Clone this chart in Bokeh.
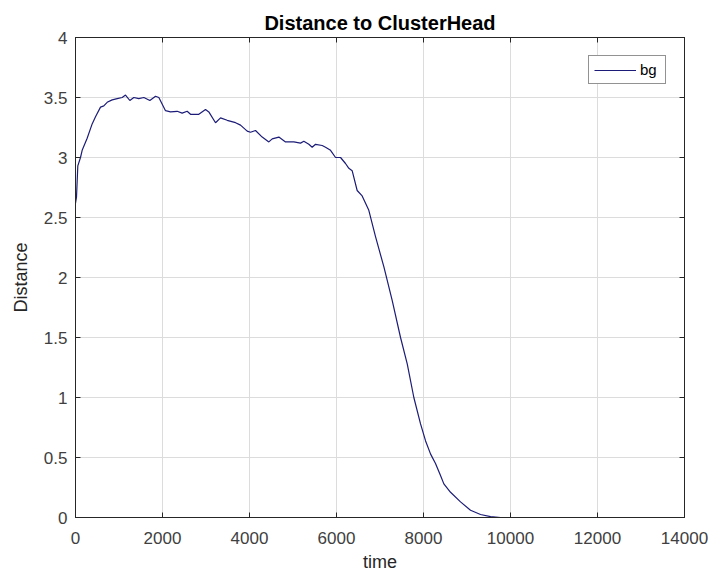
from bokeh.plotting import figure
from bokeh.models import LinearAxis, FixedTicker, Range1d, Legend, LegendItem
from bokeh.embed import file_html
from bokeh.resources import INLINE

# Mean distance of the nodes to their cluster head over simulation time
time = [0, 23, 53, 115, 153, 268, 383, 460, 575, 651, 728, 843, 958, 1073, 1150,
        1249, 1341, 1456, 1571, 1709, 1840, 1916, 2069, 2184, 2337, 2452, 2567,
        2644, 2835, 2989, 3065, 3219, 3334, 3487, 3679, 3794, 3947, 4023, 4138,
        4292, 4445, 4522, 4675, 4828, 5019, 5173, 5249, 5364, 5441, 5518, 5671,
        5748, 5863, 5978, 6093, 6207, 6284, 6360, 6475, 6590, 6743, 6897, 7088,
        7280, 7472, 7626, 7778, 7932, 8046, 8161, 8276, 8391, 8468, 8622, 8851,
        9081, 9311, 9541, 9771, 10000, 11000, 12000, 12500]
distance = [2.62, 2.67, 2.93, 3.00, 3.06, 3.16, 3.28, 3.34, 3.42, 3.43, 3.46, 3.48,
            3.49, 3.50, 3.52, 3.475, 3.50, 3.49, 3.50, 3.475, 3.51, 3.50, 3.39,
            3.38, 3.385, 3.37, 3.385, 3.36, 3.36, 3.40, 3.38, 3.29, 3.33, 3.31,
            3.29, 3.27, 3.22, 3.21, 3.225, 3.17, 3.13, 3.155, 3.17, 3.13, 3.13,
            3.12, 3.135, 3.11, 3.085, 3.11, 3.10, 3.085, 3.06, 3.00, 3.00, 2.95,
            2.91, 2.89, 2.725, 2.68, 2.56, 2.34, 2.09, 1.81, 1.50, 1.28, 1.00,
            0.78, 0.64, 0.53, 0.45, 0.35, 0.28, 0.21, 0.13, 0.06, 0.025, 0.008,
            0.0, 0.0, 0.0, 0.0, 0.0]

x_ticks = [0, 2000, 4000, 6000, 8000, 10000, 12000, 14000]
y_ticks = [0, 0.5, 1, 1.5, 2, 2.5, 3, 3.5, 4]
y_tick_labels = {0: "0", 0.5: "0.5", 1: "1", 1.5: "1.5", 2: "2", 2.5: "2.5",
                 3: "3", 3.5: "3.5", 4: "4"}

FONT = "Liberation Sans"
AXIS_COLOR = "#262626"
LINE_COLOR = "#1c1c78"

p = figure(frame_width=609, frame_height=480,
           x_range=Range1d(0, 14000), y_range=Range1d(0, 4),
           output_backend="svg", toolbar_location=None,
           min_border_left=75, min_border_right=27,
           min_border_top=37, min_border_bottom=59,
           background_fill_color="white", border_fill_color="white")

p.title.text = "Distance to ClusterHead"
p.title.align = "center"
p.title.text_font = FONT
p.title.text_font_size = "20px"
p.title.text_font_style = "bold"
p.title.text_color = "black"
p.title.standoff = 8

p.outline_line_color = AXIS_COLOR
p.outline_line_width = 1

for ax in (p.xaxis[0], p.yaxis[0]):
    ax.major_label_text_font = FONT
    ax.major_label_text_font_size = "17px"
    ax.major_label_text_color = "#404040"
    ax.axis_label_text_font = FONT
    ax.axis_label_text_font_size = "18px"
    ax.axis_label_text_font_style = "normal"
    ax.axis_label_text_color = "#262626"
    ax.axis_line_color = AXIS_COLOR
    ax.major_tick_line_color = AXIS_COLOR
    ax.major_tick_in = 5
    ax.major_tick_out = 0
    ax.minor_tick_line_color = None

p.xaxis[0].ticker = FixedTicker(ticks=x_ticks)
p.yaxis[0].ticker = FixedTicker(ticks=y_ticks)
p.yaxis[0].major_label_overrides = y_tick_labels
p.xaxis[0].axis_label = "time"
p.yaxis[0].axis_label = "Distance"
p.xaxis[0].major_label_standoff = 14
p.yaxis[0].major_label_standoff = 8
p.xaxis[0].axis_label_standoff = 5
p.yaxis[0].axis_label_standoff = 10

# Box ticks on the top and right edges, without labels
for side, ticks in (("above", x_ticks), ("right", y_ticks)):
    extra = LinearAxis(ticker=FixedTicker(ticks=ticks),
                       major_label_overrides={t: "" for t in ticks},
                       major_label_standoff=0,
                       axis_line_color=AXIS_COLOR,
                       major_tick_line_color=AXIS_COLOR,
                       major_tick_in=5, major_tick_out=0,
                       minor_tick_line_color=None)
    p.add_layout(extra, side)

p.grid.grid_line_color = "#dcdcdc"
p.grid.grid_line_width = 1
p.xgrid.ticker = FixedTicker(ticks=x_ticks)
p.ygrid.ticker = FixedTicker(ticks=y_ticks)

r = p.line(time, distance, line_color=LINE_COLOR, line_width=1.2)

legend = Legend(items=[LegendItem(label="bg", renderers=[r])],
                location="top_right", margin=18, padding=5,
                glyph_width=42, glyph_height=16, label_standoff=4,
                label_text_font=FONT, label_text_font_size="15px",
                label_text_color="black", label_height=16,
                border_line_color=AXIS_COLOR, border_line_width=1,
                background_fill_color="white", background_fill_alpha=1.0)
p.add_layout(legend, "center")

open("out.html", "w").write(file_html(p, INLINE))
